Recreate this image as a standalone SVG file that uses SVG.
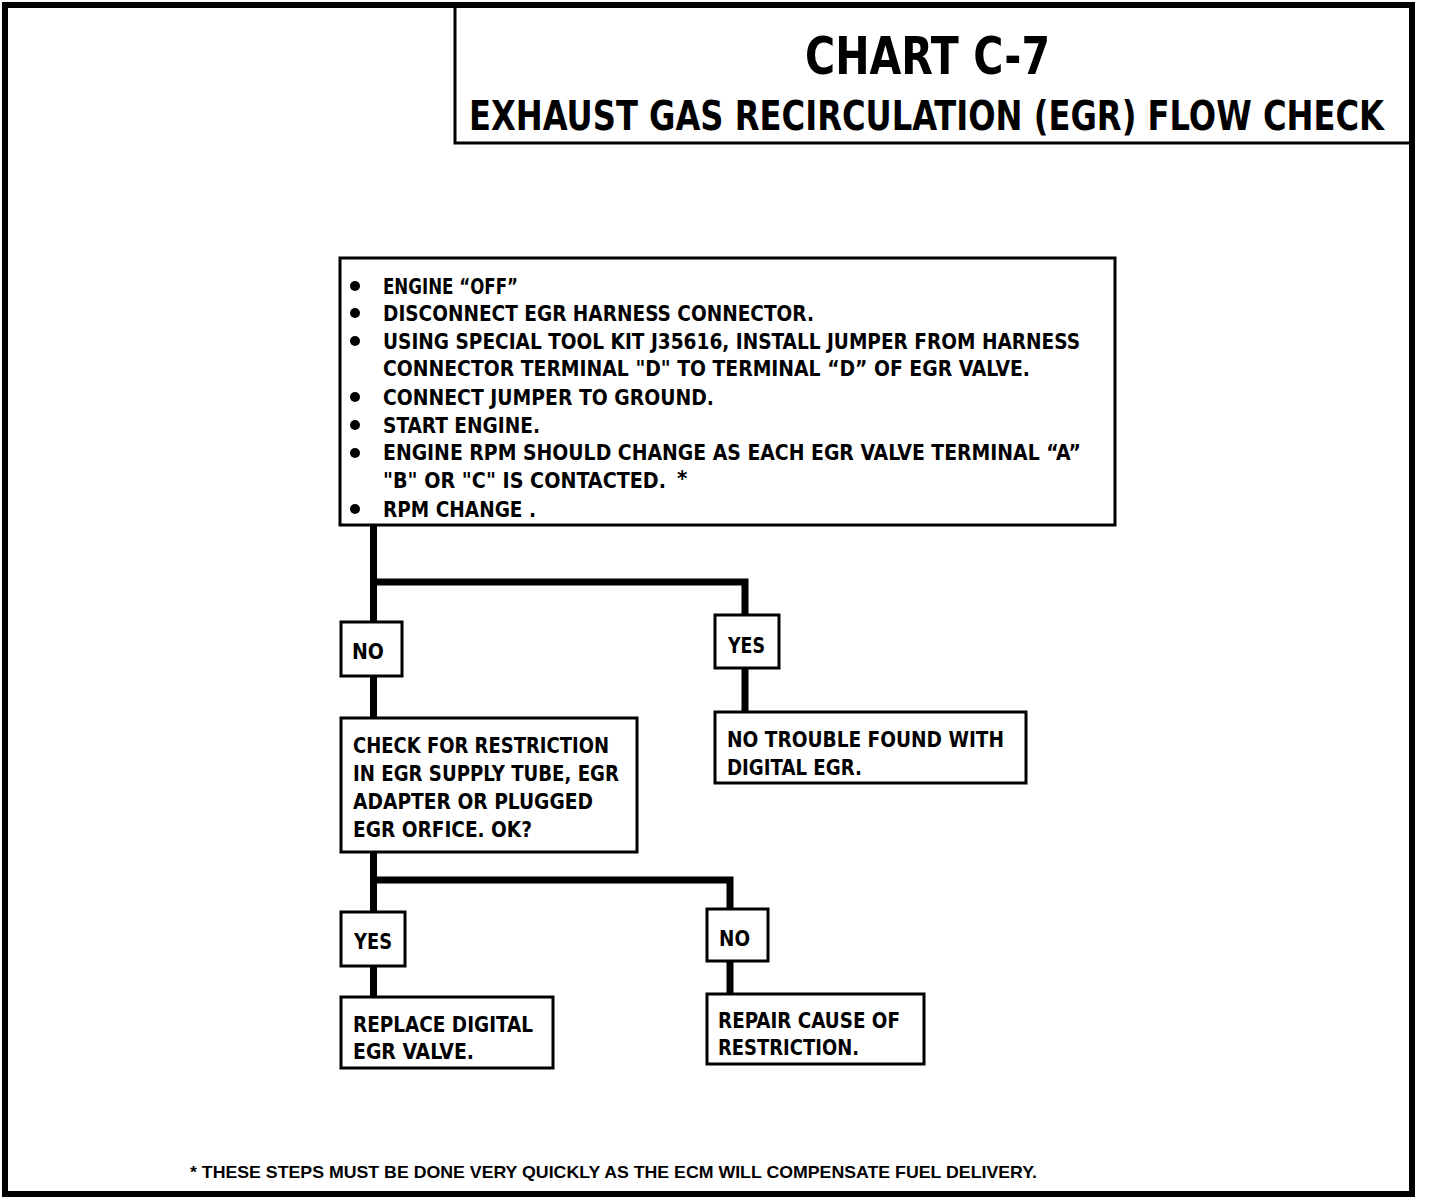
<svg xmlns="http://www.w3.org/2000/svg" width="1440" height="1198" viewBox="0 0 1440 1198">
<style>
.t{font-family:"DejaVu Sans Condensed","Liberation Sans",sans-serif;font-weight:bold;font-size:22px;fill:#000}
.box{fill:#fff;stroke:#000;stroke-width:3}
.ln{fill:none;stroke:#000;stroke-width:7;stroke-linejoin:miter;stroke-linecap:butt}
</style>
<rect x="0" y="0" width="1440" height="1198" fill="#fff"/>
<rect x="5" y="5" width="1407" height="1189" fill="none" stroke="#000" stroke-width="6"/>
<g id="title">
<polyline points="455,5 455,143 1410,143" fill="none" stroke="#000" stroke-width="3"/>
<text x="805" y="74" class="t" style="font-size:52px" textLength="245" lengthAdjust="spacingAndGlyphs">CHART C-7</text>
<text x="551.76" y="130" transform="scale(0.85,1)" class="t" style="font-size:41px" textLength="1076.5" lengthAdjust="spacingAndGlyphs">EXHAUST GAS RECIRCULATION (EGR) FLOW CHECK</text>
</g>
<g id="connectors">
<polyline class="ln" points="373.5,525 373.5,622"/>
<polyline class="ln" points="373.5,582 745,582 745,615"/>
<polyline class="ln" points="373.5,676 373.5,718"/>
<polyline class="ln" points="745,668 745,712"/>
<polyline class="ln" points="373.5,852 373.5,912"/>
<polyline class="ln" points="373.5,880 730,880 730,909"/>
<polyline class="ln" points="373.5,966 373.5,997"/>
<polyline class="ln" points="730,961 730,994"/>
</g>
<g id="start">
<rect class="box" x="340" y="258" width="775" height="267"/>
<g fill="#000">
<circle cx="355" cy="286" r="5"/>
<circle cx="355" cy="313" r="5"/>
<circle cx="355" cy="341" r="5"/>
<circle cx="355" cy="397" r="5"/>
<circle cx="355" cy="425" r="5"/>
<circle cx="355" cy="453" r="5"/>
<circle cx="355" cy="509" r="5"/>
</g>
<text class="t" x="383" y="294" textLength="135" lengthAdjust="spacingAndGlyphs">ENGINE “OFF”</text>
<text class="t" x="383" y="321" textLength="431" lengthAdjust="spacingAndGlyphs">DISCONNECT EGR HARNESS CONNECTOR.</text>
<text class="t" x="383" y="349" textLength="697" lengthAdjust="spacingAndGlyphs">USING SPECIAL TOOL KIT J35616,  INSTALL JUMPER FROM HARNESS</text>
<text class="t" x="383" y="376" textLength="647" lengthAdjust="spacingAndGlyphs">CONNECTOR TERMINAL "D" TO TERMINAL “D” OF EGR VALVE.</text>
<text class="t" x="383" y="405" textLength="331" lengthAdjust="spacingAndGlyphs">CONNECT JUMPER TO GROUND.</text>
<text class="t" x="383" y="433" textLength="157" lengthAdjust="spacingAndGlyphs">START ENGINE.</text>
<text class="t" x="383" y="460" textLength="698" lengthAdjust="spacingAndGlyphs">ENGINE RPM SHOULD CHANGE AS EACH EGR VALVE TERMINAL “A”</text>
<text class="t" x="383" y="488" textLength="283" lengthAdjust="spacingAndGlyphs">"B" OR "C" IS CONTACTED.</text>
<text class="t" x="677" y="486">*</text>
<text class="t" x="383" y="517" textLength="153" lengthAdjust="spacingAndGlyphs">RPM CHANGE .</text>
</g>
<g id="no1">
<rect class="box" x="341" y="622" width="61" height="54"/>
<text class="t" x="352" y="659" textLength="32" lengthAdjust="spacingAndGlyphs">NO</text>
</g>
<g id="yes1">
<rect class="box" x="715" y="615" width="64" height="53"/>
<text class="t" x="728" y="653" textLength="37" lengthAdjust="spacingAndGlyphs">YES</text>
</g>
<g id="check">
<rect class="box" x="341" y="718" width="296" height="134"/>
<text class="t" x="353" y="753" textLength="256" lengthAdjust="spacingAndGlyphs">CHECK FOR RESTRICTION</text>
<text class="t" x="353" y="781" textLength="266" lengthAdjust="spacingAndGlyphs">IN EGR SUPPLY TUBE, EGR</text>
<text class="t" x="353" y="809" textLength="240" lengthAdjust="spacingAndGlyphs">ADAPTER OR PLUGGED</text>
<text class="t" x="353" y="837" textLength="179" lengthAdjust="spacingAndGlyphs">EGR ORFICE.  OK?</text>
</g>
<g id="ntf">
<rect class="box" x="715" y="712" width="311" height="71"/>
<text class="t" x="727" y="747" textLength="277" lengthAdjust="spacingAndGlyphs">NO TROUBLE FOUND WITH</text>
<text class="t" x="727" y="775" textLength="135" lengthAdjust="spacingAndGlyphs">DIGITAL EGR.</text>
</g>
<g id="yes2">
<rect class="box" x="341" y="912" width="64" height="54"/>
<text class="t" x="354" y="949" textLength="38" lengthAdjust="spacingAndGlyphs">YES</text>
</g>
<g id="no2">
<rect class="box" x="707" y="909" width="61" height="52"/>
<text class="t" x="719" y="946" textLength="31" lengthAdjust="spacingAndGlyphs">NO</text>
</g>
<g id="replace">
<rect class="box" x="341" y="997" width="212" height="71"/>
<text class="t" x="353" y="1032" textLength="180" lengthAdjust="spacingAndGlyphs">REPLACE DIGITAL</text>
<text class="t" x="353" y="1059" textLength="121" lengthAdjust="spacingAndGlyphs">EGR VALVE.</text>
</g>
<g id="repair">
<rect class="box" x="707" y="994" width="217" height="70"/>
<text class="t" x="718" y="1028" textLength="182" lengthAdjust="spacingAndGlyphs">REPAIR CAUSE OF</text>
<text class="t" x="718" y="1055" textLength="141" lengthAdjust="spacingAndGlyphs">RESTRICTION.</text>
</g>
<g id="footnote">
<text x="190" y="1178" style="font-family:'Liberation Sans',sans-serif;font-weight:bold;font-size:17px" textLength="847" lengthAdjust="spacingAndGlyphs">* THESE STEPS MUST BE DONE VERY QUICKLY AS THE ECM WILL COMPENSATE FUEL DELIVERY.</text>
</g>
</svg>
